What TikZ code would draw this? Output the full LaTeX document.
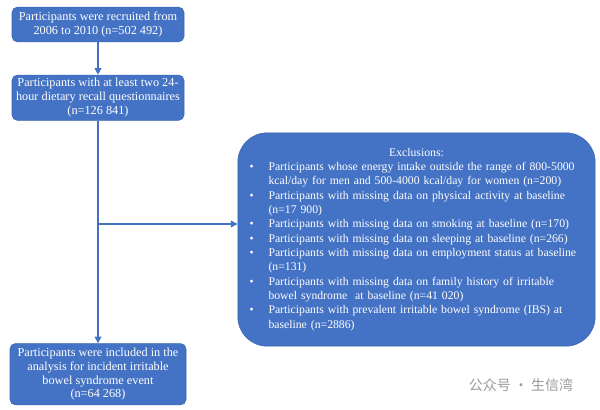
\documentclass[tikz,border=0pt]{standalone}
\usepackage{fontspec}
\setmainfont{Liberation Serif}
\newfontfamily\cjkfont{Noto Sans CJK SC}
\usepackage{enumitem}
\usepackage{tikz}
\usetikzlibrary{positioning,arrows.meta}

\definecolor{boxblue}{HTML}{4472C4}
\definecolor{boxedge}{HTML}{3B65B3}

\begin{document}
\begin{tikzpicture}[x=0.75pt,y=-0.75pt,
    stage/.style={draw=boxedge,fill=boxblue,text=white,rounded corners=4pt,
      align=center,inner sep=2pt,font=\fontsize{9.2}{10.4}\selectfont},
    flow/.style={draw=boxblue,line width=1.1pt,-{Triangle[length=5pt,width=5pt]}}]
  \useasboundingbox (0,0) rectangle (600,410);
  % main column
  \node[stage,minimum width=129pt,minimum height=26pt](recruit) at (98,24.5)
    {Participants were recruited from\\2006 to 2010 (n=502 492)};
  \node[stage,minimum width=129pt,minimum height=34pt,below=24.5pt of recruit](recall)
    {Participants with at least two 24-\\hour dietary recall questionnaires\\(n=126 841)};
  \node[stage,minimum width=132pt,minimum height=46pt,below=167pt of recall](included)
    {Participants were included in the\\analysis for incident irritable\\bowel syndrome event\\(n=64 268)};
  % exclusions
  \node[draw=boxedge,fill=boxblue,text=white,rounded corners=22pt,
    minimum width=268pt,minimum height=160pt,text width=250pt,inner sep=0pt,
    font=\fontsize{8.8}{10.75}\selectfont](excl) at (416.5,239.5)
    {\centering Exclusions:\par\raggedright
     \begin{itemize}[leftmargin=14pt,labelsep=11pt,itemsep=0pt,parsep=0pt,topsep=0pt,partopsep=0pt,label=\textbullet]
     \item Participants whose energy intake outside the range of 800-5000\\kcal/day for men and 500-4000 kcal/day for women (n=200)
     \item Participants with missing data on physical activity at baseline\\(n=17 900)
     \item Participants with missing data on smoking at baseline (n=170)
     \item Participants with missing data on sleeping at baseline (n=266)
     \item Participants with missing data on employment status at baseline\\(n=131)
     \item Participants with missing data on family history of irritable\\bowel syndrome\ \ at baseline (n=41 020)
     \item Participants with prevalent irritable bowel syndrome (IBS) at\\baseline (n=2886)
     \end{itemize}};
  % connectors
  \coordinate (split) at (recall.south |- 0,224);
  \draw[flow] (recruit) -- (recall);
  \draw[flow] (recall) -- (included);
  \draw[flow] (split) -- (split -| excl.west);
  % watermark
  \node[text=black!40,font=\cjkfont\fontsize{10.5}{12}\selectfont](mark) at (521,385) {公众号 · 生信湾};
\end{tikzpicture}
\end{document}
